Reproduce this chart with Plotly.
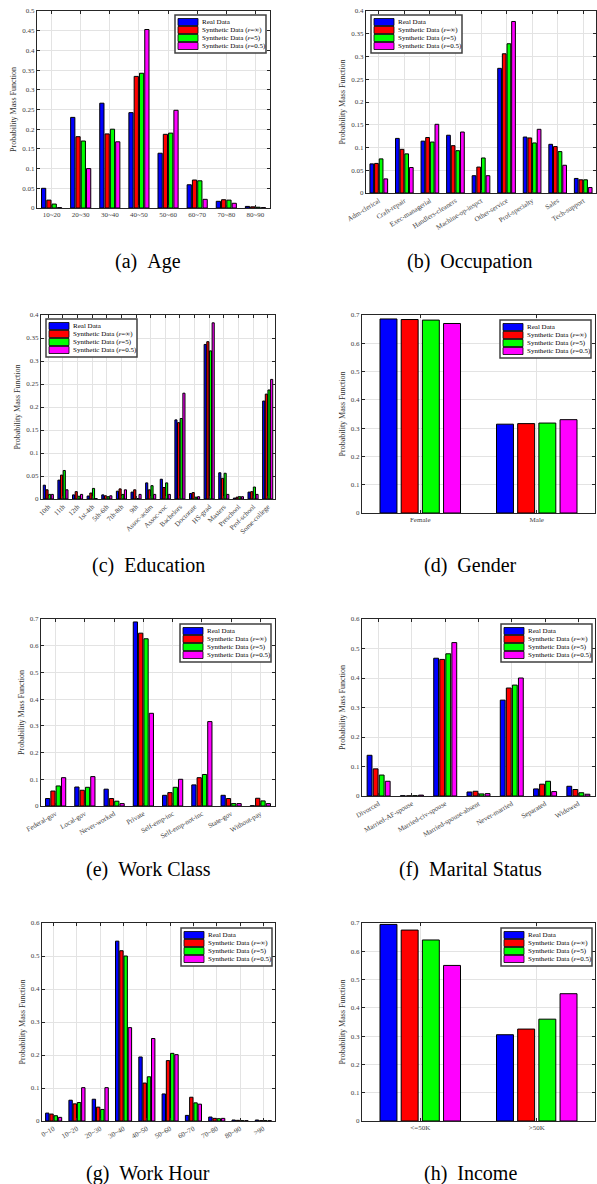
import plotly.graph_objects as go

# ---------------- data ----------------
SERIES = ["Real Data", "Synthetic Data (<i>ε</i>=∞)", "Synthetic Data (<i>ε</i>=5)", "Synthetic Data (<i>ε</i>=0.5)"]
COLORS = ["#0000FF", "#FF0000", "#00FF00", "#FF00FF"]

age_cats = ["10~20", "20~30", "30~40", "40~50", "50~60", "60~70", "70~80", "80~90"]
age_real = [0.050, 0.230, 0.266, 0.242, 0.139, 0.059, 0.017, 0.004]
age_inf = [0.020, 0.181, 0.188, 0.334, 0.187, 0.071, 0.021, 0.003]
age_e5 = [0.010, 0.170, 0.200, 0.342, 0.190, 0.069, 0.020, 0.002]
age_e05 = [0.001, 0.100, 0.168, 0.453, 0.248, 0.022, 0.012, 0.001]

occ_cats = ["Adm-clerical", "Craft-repair", "Exec-managerial", "Handlers-cleaners", "Machine-op-inspct",
            "Other-service", "Prof-specialty", "Sales", "Tech-support"]
occ_real = [0.064, 0.120, 0.114, 0.127, 0.038, 0.274, 0.123, 0.107, 0.032]
occ_inf = [0.065, 0.096, 0.122, 0.104, 0.057, 0.306, 0.121, 0.102, 0.029]
occ_e5 = [0.075, 0.086, 0.112, 0.093, 0.077, 0.328, 0.110, 0.091, 0.029]
occ_e05 = [0.031, 0.056, 0.151, 0.134, 0.038, 0.377, 0.140, 0.061, 0.012]

edu_cats = ["10th", "11th", "12th", "1st-4th", "5th-6th", "7th-8th", "9th", "Assoc-acdm", "Assoc-voc",
            "Bachelors", "Doctorate", "HS-grad", "Masters", "Preschool", "Prof-school", "Some-college"]
edu_real = [0.030, 0.041, 0.009, 0.0065, 0.009, 0.017, 0.015, 0.035, 0.043, 0.172, 0.012, 0.336, 0.057, 0.002, 0.015, 0.213]
edu_inf = [0.020, 0.052, 0.016, 0.013, 0.007, 0.022, 0.020, 0.020, 0.025, 0.166, 0.014, 0.342, 0.045, 0.004, 0.016, 0.228]
edu_e5 = [0.010, 0.062, 0.006, 0.023, 0.005, 0.010, 0.001, 0.029, 0.035, 0.175, 0.004, 0.322, 0.056, 0.005, 0.026, 0.237]
edu_e05 = [0.010, 0.020, 0.010, 0.001, 0.007, 0.020, 0.010, 0.010, 0.010, 0.230, 0.005, 0.383, 0.010, 0.005, 0.010, 0.260]

gen_cats = ["Female", "Male"]
gen_real = [0.686, 0.314]
gen_inf = [0.684, 0.316]
gen_e5 = [0.682, 0.318]
gen_e05 = [0.670, 0.330]

wc_cats = ["Federal-gov", "Local-gov", "Never-worked", "Private", "Self-emp-inc", "Self-emp-not-inc", "State-gov", "Without-pay"]
wc_real = [0.028, 0.071, 0.063, 0.689, 0.040, 0.079, 0.040, 0.001]
wc_inf = [0.056, 0.059, 0.028, 0.647, 0.050, 0.106, 0.028, 0.029]
wc_e5 = [0.075, 0.070, 0.018, 0.626, 0.070, 0.118, 0.009, 0.019]
wc_e05 = [0.106, 0.110, 0.009, 0.347, 0.100, 0.316, 0.009, 0.009]

ms_cats = ["Divorced", "Married-AF-spouse", "Married-civ-spouse", "Married-spouse-absent", "Never-married", "Separated", "Widowed"]
ms_real = [0.138, 0.001, 0.467, 0.0136, 0.325, 0.024, 0.033]
ms_inf = [0.092, 0.0005, 0.463, 0.016, 0.366, 0.040, 0.022]
ms_e5 = [0.071, 0.001, 0.482, 0.007, 0.376, 0.050, 0.011]
ms_e05 = [0.050, 0.003, 0.520, 0.008, 0.400, 0.015, 0.006]

wh_cats = ["0~10", "10~20", "20~30", "30~40", "40~50", "50~60", "60~70", "70~80", "80~90", ">90"]
wh_real = [0.024, 0.063, 0.066, 0.545, 0.194, 0.082, 0.017, 0.012, 0.003, 0.003]
wh_inf = [0.021, 0.052, 0.042, 0.516, 0.115, 0.183, 0.072, 0.008, 0.002, 0.001]
wh_e5 = [0.016, 0.056, 0.035, 0.500, 0.134, 0.205, 0.055, 0.007, 0.001, 0.001]
wh_e05 = [0.011, 0.101, 0.101, 0.283, 0.250, 0.201, 0.051, 0.008, 0.001, 0.001]

inc_cats = ["<=50K", ">50K"]
inc_real = [0.695, 0.305]
inc_inf = [0.675, 0.325]
inc_e5 = [0.640, 0.360]
inc_e05 = [0.550, 0.450]

# ---------------- layout spec (pixels) ----------------
W, H = 597, 1184
FONT = "Liberation Serif"

panels = [
    dict(cats=age_cats, vals=[age_real, age_inf, age_e5, age_e05], ymax=0.5, dtick=0.05, angle=0,
         cap="(a)\u00a0\u00a0Age", box=(37, 270, 11, 208), leg=(175, 15), capx=148, capy=261),
    dict(cats=occ_cats, vals=[occ_real, occ_inf, occ_e5, occ_e05], ymax=0.4, dtick=0.05, angle=-32,
         cap="(b)\u00a0\u00a0Occupation", box=(366, 596, 11, 193), leg=(371, 15), capx=470, capy=261),
    dict(cats=edu_cats, vals=[edu_real, edu_inf, edu_e5, edu_e05], ymax=0.4, dtick=0.05, angle=-45,
         cap="(c)\u00a0\u00a0Education", box=(41, 275, 315, 499), leg=(46, 319), capx=148, capy=565),
    dict(cats=gen_cats, vals=[gen_real, gen_inf, gen_e5, gen_e05], ymax=0.7, dtick=0.1, angle=0,
         cap="(d)\u00a0\u00a0Gender", box=(362, 595, 315, 513), leg=(500, 320), capx=470, capy=565),
    dict(cats=wc_cats, vals=[wc_real, wc_inf, wc_e5, wc_e05], ymax=0.7, dtick=0.1, angle=-30,
         cap="(e)\u00a0\u00a0Work Class", box=(41, 275, 619, 806), leg=(180, 624), capx=148, capy=869),
    dict(cats=ms_cats, vals=[ms_real, ms_inf, ms_e5, ms_e05], ymax=0.6, dtick=0.1, angle=-30,
         cap="(f)\u00a0\u00a0Marital Status", box=(362, 595, 619, 796), leg=(501, 624), capx=470, capy=869),
    dict(cats=wh_cats, vals=[wh_real, wh_inf, wh_e5, wh_e05], ymax=0.6, dtick=0.1, angle=-30,
         cap="(g)\u00a0\u00a0Work Hour", box=(42, 275, 923, 1121), leg=(181, 928), capx=148, capy=1173),
    dict(cats=inc_cats, vals=[inc_real, inc_inf, inc_e5, inc_e05], ymax=0.7, dtick=0.1, angle=0,
         cap="(h)\u00a0\u00a0Income", box=(362, 595, 923, 1121), leg=(501, 928), capx=470, capy=1173),
]

GROUP = 4 / 5.5
SLOT = GROUP / 4
BW = 0.8 * SLOT


def fx(v):
    return v / W


def fy(v):
    return 1 - v / H


fig = go.Figure()
layout = dict(width=W, height=H, autosize=False, margin=dict(l=0, r=0, t=0, b=0, pad=0),
              paper_bgcolor="white", plot_bgcolor="white", barmode="overlay", showlegend=False,
              font=dict(family=FONT, size=7, color="#333333"))
shapes, annotations = [], []

axis_common = dict(showline=True, linecolor="#262626", linewidth=1, mirror="ticks", ticks="inside",
                   ticklen=3, tickwidth=0.8, tickcolor="#262626", showgrid=True, gridcolor="#e3e3e3",
                   gridwidth=1, zeroline=False, automargin=False,
                   tickfont=dict(family=FONT, size=7, color="#404040"))

for k, p in enumerate(panels):
    suf = "" if k == 0 else str(k + 1)
    xa, ya = "x" + suf, "y" + suf
    n = len(p["cats"])
    for i, (vals, col, name) in enumerate(zip(p["vals"], COLORS, SERIES)):
        fig.add_trace(go.Bar(x=p["cats"], y=vals, xaxis=xa, yaxis=ya, name=name,
                             marker=dict(color=col, line=dict(color="black", width=1)),
                             width=BW, offset=-GROUP / 2 + i * SLOT + (SLOT - BW) / 2))
    l, r, t, b = p["box"]
    layout["xaxis" + suf] = dict(axis_common, domain=[fx(l), fx(r)], anchor=ya, type="category",
                                 range=[-0.5, n - 0.5], tickangle=p["angle"])
    layout["yaxis" + suf] = dict(axis_common, domain=[fy(b), fy(t)], anchor=xa, range=[0, p["ymax"]],
                                 tick0=0, dtick=p["dtick"],
                                 title=dict(text="Probability Mass Function", standoff=4,
                                            font=dict(family=FONT, size=8, color="#333333")))
    # legend box drawn in paper space
    lx, ly = p["leg"]
    shapes.append(dict(type="rect", xref="paper", yref="paper", x0=fx(lx), x1=fx(lx + 91),
                       y0=fy(ly + 38), y1=fy(ly), line=dict(color="#404040", width=1.5),
                       fillcolor="white", layer="above"))
    for i, (col, name) in enumerate(zip(COLORS, SERIES)):
        yt = ly + 3.5 + i * 8
        shapes.append(dict(type="rect", xref="paper", yref="paper", x0=fx(lx + 3), x1=fx(lx + 23),
                           y0=fy(yt + 7), y1=fy(yt), line=dict(color="black", width=0.8),
                           fillcolor=col, layer="above"))
        annotations.append(dict(xref="paper", yref="paper", x=fx(lx + 24.5), y=fy(yt + 3.5),
                                xanchor="left", yanchor="middle", showarrow=False, text=name,
                                font=dict(family=FONT, size=7, color="black")))
    annotations.append(dict(xref="paper", yref="paper", x=fx(p["capx"]), y=fy(p["capy"]),
                            xanchor="center", yanchor="middle", showarrow=False, text=p["cap"],
                            font=dict(family=FONT, size=20, color="black")))

layout["shapes"] = shapes
layout["annotations"] = annotations
fig.update_layout(**layout)
fig.write_html("out.html", config={"displayModeBar": False},
               post_script="document.body.style.margin='0';document.body.style.padding='0';"
                           "document.documentElement.style.overflow='hidden';")
